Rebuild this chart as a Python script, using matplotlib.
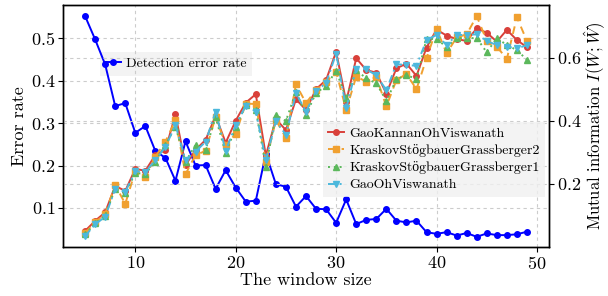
import matplotlib
matplotlib.use("Agg")
import matplotlib.pyplot as plt

plt.rcParams['font.family'] = ['cmr10', 'Liberation Serif']
plt.rcParams['mathtext.fontset'] = 'cm'
plt.rcParams['axes.formatter.use_mathtext'] = True
plt.rcParams['font.size'] = 13

window = list(range(5, 50))

detection_error = [0.552, 0.497, 0.438, 0.340, 0.347, 0.277, 0.293, 0.234, 0.218, 0.164,
                   0.257, 0.200, 0.201, 0.145, 0.189, 0.148, 0.115, 0.117, 0.228, 0.156,
                   0.150, 0.103, 0.128, 0.098, 0.097, 0.065, 0.120, 0.062, 0.072, 0.074,
                   0.098, 0.070, 0.066, 0.070, 0.043, 0.039, 0.043, 0.035, 0.041, 0.032,
                   0.040, 0.036, 0.036, 0.038, 0.044]

gkov = [0.051, 0.083, 0.110, 0.194, 0.178, 0.248, 0.242, 0.292, 0.308, 0.421,
        0.260, 0.308, 0.340, 0.416, 0.331, 0.401, 0.458, 0.485, 0.290, 0.406,
        0.371, 0.469, 0.435, 0.501, 0.530, 0.620, 0.461, 0.599, 0.562, 0.553,
        0.487, 0.567, 0.582, 0.543, 0.633, 0.690, 0.671, 0.660, 0.654, 0.694,
        0.680, 0.652, 0.689, 0.657, 0.634]

ksg2 = [0.045, 0.078, 0.105, 0.197, 0.137, 0.241, 0.222, 0.287, 0.334, 0.403,
        0.231, 0.292, 0.305, 0.414, 0.324, 0.359, 0.455, 0.454, 0.270, 0.403,
        0.346, 0.516, 0.457, 0.498, 0.525, 0.556, 0.435, 0.541, 0.525, 0.540,
        0.446, 0.530, 0.549, 0.501, 0.599, 0.692, 0.615, 0.665, 0.675, 0.733,
        0.654, 0.636, 0.597, 0.729, 0.654]

ksg1 = [0.040, 0.075, 0.100, 0.185, 0.170, 0.235, 0.232, 0.271, 0.324, 0.382,
        0.271, 0.324, 0.308, 0.412, 0.297, 0.380, 0.450, 0.435, 0.255, 0.419,
        0.400, 0.493, 0.419, 0.490, 0.510, 0.560, 0.472, 0.562, 0.535, 0.520,
        0.464, 0.532, 0.546, 0.533, 0.660, 0.660, 0.635, 0.663, 0.663, 0.663,
        0.618, 0.663, 0.641, 0.625, 0.594]

gov = [0.035, 0.072, 0.096, 0.184, 0.175, 0.240, 0.238, 0.276, 0.318, 0.387,
       0.276, 0.303, 0.334, 0.430, 0.306, 0.387, 0.448, 0.430, 0.276, 0.400,
       0.356, 0.488, 0.430, 0.495, 0.520, 0.614, 0.440, 0.565, 0.564, 0.545,
       0.498, 0.580, 0.578, 0.575, 0.657, 0.673, 0.641, 0.673, 0.673, 0.675,
       0.654, 0.641, 0.636, 0.631, 0.640]

fig = plt.figure(figsize=(6.08, 2.96), dpi=100)
ax = fig.add_axes([0.1036, 0.1655, 0.7994, 0.8175])
ax2 = ax.twinx()

grid_kw = dict(color='#cccccc', linestyle=(0, (3, 3)), linewidth=0.8)
ax.grid(True, **grid_kw)
ax2.grid(True, axis='y', **grid_kw)
ax.set_axisbelow(True)

blue, = ax.plot(window, detection_error, color='#0000ff', marker='o', markersize=4,
                linewidth=1.4, label='Detection error rate', zorder=6)

l1, = ax2.plot(window, gkov, color='#d9403a', marker='o', markersize=4, linewidth=1.4,
               linestyle='-', label='GaoKannanOhViswanath')
l2, = ax2.plot(window, ksg2, color='#f0a030', marker='s', markersize=4, linewidth=1.4,
               linestyle=(0, (4, 3)), label='KraskovStögbauerGrassberger2')
l3, = ax2.plot(window, ksg1, color='#5cb85c', marker='^', markersize=4, linewidth=1.4,
               linestyle=(0, (1, 2)), label='KraskovStögbauerGrassberger1')
l4, = ax2.plot(window, gov, color='#4cb8dc', marker='v', markersize=4, linewidth=1.4,
               linestyle=(0, (4, 2, 1, 2)), label='GaoOhViswanath')

ax.set_xlim(2.8, 51.2)
ax.set_ylim(0.008, 0.578)
ax2.set_ylim(0.0, 0.768)
ax.set_xticks([10, 20, 30, 40, 50])
ax.set_yticks([0.1, 0.2, 0.3, 0.4, 0.5])
ax2.set_yticks([0.2, 0.4, 0.6])

ax.set_xlabel('The window size', labelpad=1)
ax.set_ylabel('Error rate', labelpad=3)
ax2.set_ylabel(r'Mutual information $I(W;\hat{W})$', labelpad=1, fontsize=12)

for a in (ax, ax2):
    a.tick_params(direction='out', length=3.5, width=0.8, labelsize=13, pad=2)
    for s in a.spines.values():
        s.set_linewidth(1.0)
        s.set_color('black')

leg1 = ax.legend(handles=[blue], loc='upper left', bbox_to_anchor=(0.076, 0.806),
                 fontsize=10, frameon=True, fancybox=False, handlelength=1.1,
                 borderpad=0.4, handletextpad=0.4, borderaxespad=0)
leg1.get_frame().set_facecolor('#f0f0f0')
leg1.get_frame().set_edgecolor('none')
leg1.get_frame().set_alpha(0.8)
leg1.set_zorder(0.4)

leg2 = ax2.legend(handles=[l1, l2, l3, l4], loc='lower right', bbox_to_anchor=(0.992, 0.207),
                  fontsize=10, frameon=True, fancybox=False, handlelength=1.1,
                  borderpad=0.4, handletextpad=0.4, labelspacing=0.3, borderaxespad=0)
leg2.get_frame().set_facecolor('#f0f0f0')
leg2.get_frame().set_edgecolor('none')
leg2.get_frame().set_alpha(0.8)

fig.savefig('out.png', dpi=100)
